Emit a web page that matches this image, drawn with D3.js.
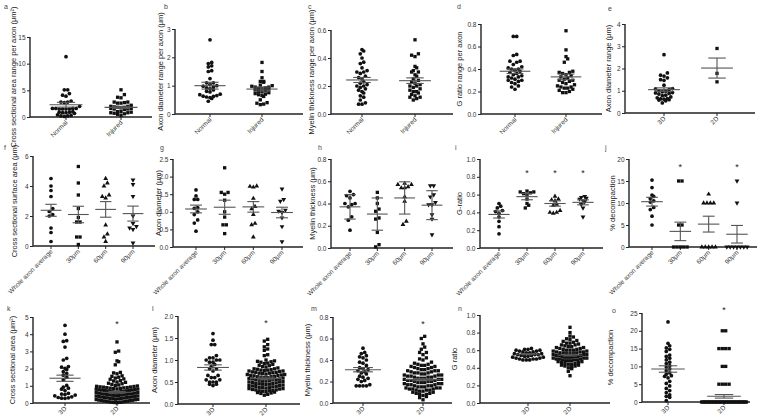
<!DOCTYPE html>
<html>
<head>
<meta charset="utf-8">
<script src="https://cdn.jsdelivr.net/npm/d3@7"></script>
<style>
  body { margin: 0; background: #fff; }
  svg { display: block; }
  text { font-family: "Liberation Sans", Arial, sans-serif; }
</style>
</head>
<body>
<div id="fig"></div>
<script>
// ---- categories ----
const catsNI = ["Normal", "Injured"];
const cats32 = ["3D", "2D"];
const catsDist = ["Whole axon average", "30μm", "60μm", "90μm"];

// ---- a: cross sectional area range ----
const aTicks = [0, 5, 10, 15];
const aNormal = [11.3, 5.1, 5.1, 4.4, 4.1, 3.9, 3.0, 2.8, 2.8, 2.7, 2.0, 1.6, 1.6, 1.6, 1.5, 1.5, 1.5, 1.5, 1.6, 1.0, 0.9, 0.9, 0.8, 0.8, 0.7, 0.4, 0.3, 0.2, 0.2, 0.1];
const aInjured = [5.1, 4.2, 3.7, 3.6, 2.8, 2.8, 2.7, 2.6, 2.6, 2.2, 2.0, 2.0, 1.9, 1.8, 1.8, 1.7, 1.6, 1.6, 1.5, 1.5, 1.4, 1.0, 1.0, 0.9, 0.8, 0.8, 0.7, 0.6, 0.5, 0.3];
const aMean = [2.3, 1.8], aErr = [0.45, 0.2];

// ---- b: axon diameter range ----
const bTicks = [0, 1, 2, 3];
const bNormal = [2.62, 1.82, 1.78, 1.7, 1.66, 1.53, 1.5, 1.25, 1.1, 1.1, 1.05, 1.0, 0.98, 0.95, 0.92, 0.9, 0.85, 0.8, 0.78, 0.7, 0.68, 0.65, 0.63, 0.62, 0.6, 0.58, 0.55, 0.45];
const bInjured = [1.82, 1.5, 1.28, 1.15, 1.12, 1.15, 1.02, 1.0, 0.98, 0.95, 0.95, 0.92, 0.9, 0.9, 0.88, 0.85, 0.82, 0.8, 0.78, 0.75, 0.72, 0.7, 0.68, 0.65, 0.62, 0.5, 0.4, 0.38, 0.35, 0.33];
const bMean = [1.0, 0.88], bErr = [0.12, 0.07];

// ---- c: myelin thickness range ----
const cTicks = ["0.0", "0.2", "0.4", "0.6"];
const cNormal = [0.46, 0.45, 0.43, 0.4, 0.37, 0.36, 0.33, 0.31, 0.3, 0.3, 0.29, 0.27, 0.26, 0.25, 0.23, 0.22, 0.21, 0.2, 0.2, 0.19, 0.18, 0.17, 0.16, 0.15, 0.13, 0.12, 0.1, 0.08, 0.07, 0.07];
const cInjured = [0.53, 0.43, 0.42, 0.41, 0.34, 0.33, 0.31, 0.3, 0.3, 0.28, 0.27, 0.25, 0.24, 0.23, 0.22, 0.21, 0.2, 0.2, 0.19, 0.18, 0.17, 0.16, 0.16, 0.15, 0.14, 0.13, 0.12, 0.12, 0.11, 0.1];
const cMean = [0.243, 0.238], cErr = [0.018, 0.02];

// ---- d: G ratio range ----
const dTicks = ["0.0", "0.2", "0.4", "0.6", "0.8"];
const dNormal = [0.69, 0.69, 0.53, 0.52, 0.47, 0.47, 0.46, 0.44, 0.42, 0.41, 0.4, 0.4, 0.39, 0.38, 0.37, 0.36, 0.35, 0.34, 0.33, 0.33, 0.32, 0.31, 0.3, 0.3, 0.29, 0.28, 0.27, 0.25, 0.24, 0.22];
const dInjured = [0.74, 0.57, 0.51, 0.49, 0.46, 0.38, 0.37, 0.37, 0.36, 0.35, 0.34, 0.33, 0.32, 0.31, 0.3, 0.3, 0.29, 0.28, 0.27, 0.26, 0.25, 0.24, 0.24, 0.23, 0.23, 0.22, 0.21, 0.2, 0.19, 0.19];
const dMean = [0.38, 0.33], dErr = [0.02, 0.025];

// ---- e: axon diameter range 3D vs 2D ----
const eTicks = [0, 1, 2, 3, 4];
const e3D = [2.62, 1.8, 1.7, 1.66, 1.58, 1.5, 1.47, 1.25, 1.1, 1.08, 1.05, 1.0, 0.98, 0.95, 0.92, 0.9, 0.88, 0.85, 0.8, 0.78, 0.72, 0.68, 0.65, 0.63, 0.62, 0.6, 0.58, 0.55, 0.45];
const e2D = [2.9, 1.78, 1.4];
const eMean = [1.05, 2.02], eErr = [0.08, 0.45];

// ---- f: cross sectional surface area by distance ----
const fTicks = [0, 2, 4, 6];
const fWhole = [4.5, 4.0, 3.7, 3.3, 2.5, 2.3, 2.1, 2.0, 1.2, 0.9, 0.3];
const f30 = [5.3, 4.2, 3.4, 2.5, 1.9, 1.6, 1.6, 0.6, 0.6, 0.1];
const f60 = [4.5, 4.2, 4.0, 3.4, 3.3, 3.2, 1.4, 0.8, 0.6, 0.3];
const f90 = [4.4, 4.1, 3.3, 2.0, 1.5, 1.3, 1.2, 1.1, 0.2];
const fMean = [2.38, 2.1, 2.44, 2.16], fErr = [0.4, 0.55, 0.52, 0.5];

// ---- g: axon diameter by distance ----
const gTicks = ["0.0", "0.5", "1.0", "1.5", "2.0", "2.5"];
const gWhole = [1.62, 1.45, 1.35, 1.35, 1.12, 1.1, 1.0, 0.92, 0.77, 0.68, 0.45];
const g30 = [2.25, 1.55, 1.55, 1.5, 1.33, 1.0, 0.85, 0.63, 0.63, 0.38];
const g60 = [1.73, 1.72, 1.7, 1.38, 1.15, 1.08, 0.92, 0.67, 0.63, 0.28];
const g90 = [1.65, 1.35, 1.3, 1.05, 1.02, 0.98, 0.83, 0.58, 0.15];
const gMean = [1.08, 1.13, 1.14, 0.98], gErr = [0.11, 0.2, 0.15, 0.15];

// ---- h: myelin thickness by distance (SD) ----
const hTicks = ["0.0", "0.2", "0.4", "0.6", "0.8"];
const hWhole = [0.51, 0.48, 0.47, 0.45, 0.4, 0.4, 0.39, 0.37, 0.28, 0.25, 0.16];
const h30 = [0.5, 0.45, 0.4, 0.35, 0.33, 0.27, 0.26, 0.14, 0.03, 0.01];
const h60 = [0.58, 0.57, 0.57, 0.55, 0.54, 0.54, 0.46, 0.42, 0.24, 0.21];
const h90 = [0.56, 0.56, 0.48, 0.46, 0.41, 0.39, 0.39, 0.3, 0.26, 0.12];
const hMean = [0.37, 0.305, 0.45, 0.385], hErr = [0.11, 0.145, 0.145, 0.13];

// ---- i: G-ratio by distance ----
const iTicks = ["0.0", "0.2", "0.4", "0.6", "0.8", "1.0"];
const iWhole = [0.5, 0.47, 0.45, 0.42, 0.41, 0.39, 0.35, 0.3, 0.24, 0.16];
const i30 = [0.64, 0.63, 0.63, 0.62, 0.61, 0.6, 0.55, 0.5, 0.48, 0.45];
const i60 = [0.58, 0.55, 0.54, 0.53, 0.49, 0.48, 0.42, 0.4, 0.4, 0.39];
const i90 = [0.58, 0.57, 0.56, 0.55, 0.53, 0.52, 0.49, 0.45, 0.35];
const iMean = [0.377, 0.577, 0.5, 0.513], iErr = [0.04, 0.035, 0.03, 0.028];
const iStars = [null, 0.85, 0.85, 0.85];

// ---- j: % decompaction by distance ----
const jTicks = [0, 5, 10, 15, 20];
const jWhole = [15.2, 13.5, 11.8, 11.5, 11.0, 10.5, 10.2, 9.0, 8.5, 7.0, 5.0];
const j30 = [15, 15, 5, 5, 0, 0, 0, 0, 0];
const j60 = [12, 10, 10, 10, 10, 0, 0, 0, 0, 0];
const j90 = [15, 10, 0, 0, 0, 0, 0, 0, 0];
const jMean = [10.3, 3.55, 5.2, 2.9], jErr = [1.0, 2.1, 1.8, 2.0];
const jStars = [null, 18.5, null, 18.5];

// ---- k: cross sectional area 3D vs 2D ----
const kTicks = [0, 1, 2, 3, 4, 5];
const k3D = [4.52, 4.0, 3.62, 3.58, 3.25, 2.6, 2.5, 2.12, 2.08, 2.02, 1.95, 1.82, 1.72, 1.62, 1.5, 1.35, 1.02, 0.92, 0.86, 0.8, 0.72, 0.56, 0.52, 0.5, 0.46, 0.42, 0.36, 0.32, 0.3, 0.28, 0.27];
const k2D = [3.55, 3.02, 2.95, 2.45, 2.4, 2.22, 1.78, 1.75, 1.7, 1.58, 1.55, 1.5, 1.45, 1.4, 1.38, 1.3, 1.28, 1.22, 1.2, 1.15, 1.12, 1.08, 1.05, 1.02,
  0.99, 0.97, 0.96, 0.94, 0.93, 0.92, 0.9, 0.89, 0.88, 0.86, 0.85, 0.84, 0.82, 0.81, 0.8, 0.79, 0.77, 0.76, 0.75, 0.73, 0.72, 0.71, 0.7, 0.68, 0.67, 0.66,
  0.65, 0.63, 0.62, 0.61, 0.6, 0.58, 0.57, 0.56, 0.55, 0.54, 0.52, 0.51, 0.5, 0.49, 0.47, 0.46, 0.45, 0.44, 0.42, 0.41, 0.4, 0.39, 0.37, 0.36, 0.35,
  0.34, 0.32, 0.31, 0.3, 0.29, 0.27, 0.26, 0.25, 0.24, 0.22, 0.21, 0.2, 0.19, 0.17, 0.16, 0.15, 0.14, 0.12, 0.11, 0.1, 0.09, 0.07, 0.06, 0.05, 0.04, 0.03, 0.02];
const kMean = [1.44, 0.62], kErr = [0.18, 0.05];
const kStars = [null, 4.65];

// ---- l: axon diameter 3D vs 2D ----
const lTicks = ["0.0", "0.5", "1.0", "1.5", "2.0"];
const l3D = [1.6, 1.45, 1.35, 1.35, 1.1, 1.05, 1.05, 1.0, 1.0, 1.0, 0.95, 0.95, 0.9, 0.85, 0.8, 0.8, 0.75, 0.65, 0.65, 0.6, 0.6, 0.55, 0.55, 0.5, 0.5, 0.5, 0.45, 0.45, 0.42];
const l2D = [1.47, 1.43, 1.35, 1.3, 1.25, 1.22, 1.12, 1.1, 1.0, 0.98, 0.97, 0.96, 0.95, 0.93, 0.92, 0.9, 0.88, 0.87, 0.85, 0.84, 0.82, 0.8, 0.8, 0.79,
  0.78, 0.77, 0.77, 0.76, 0.75, 0.75, 0.74, 0.73, 0.72, 0.72, 0.71, 0.7, 0.7, 0.69, 0.68, 0.67, 0.67, 0.66, 0.65, 0.65, 0.64, 0.63, 0.62, 0.62, 0.61,
  0.6, 0.6, 0.59, 0.58, 0.57, 0.57, 0.56, 0.55, 0.55, 0.54, 0.53, 0.52, 0.52, 0.51, 0.5, 0.5, 0.49, 0.48, 0.47, 0.47, 0.46, 0.45, 0.45, 0.44, 0.43,
  0.42, 0.42, 0.41, 0.4, 0.4, 0.39, 0.38, 0.37, 0.37, 0.36, 0.35, 0.35, 0.34, 0.33, 0.32, 0.32, 0.31, 0.3, 0.3, 0.29, 0.28, 0.27, 0.26, 0.25, 0.24, 0.22, 0.2];
const lMean = [0.83, 0.58], lErr = [0.06, 0.03];
const lStars = [null, 1.87];

// ---- m: myelin thickness 3D vs 2D ----
const mTicks = ["0.0", "0.2", "0.4", "0.6", "0.8"];
const m3D = [0.51, 0.47, 0.46, 0.44, 0.43, 0.42, 0.4, 0.38, 0.37, 0.35, 0.33, 0.32, 0.31, 0.3, 0.29, 0.28, 0.27, 0.25, 0.24, 0.23, 0.22, 0.21, 0.2, 0.17, 0.16, 0.16, 0.16, 0.16];
const m2D = [0.62, 0.6, 0.55, 0.52, 0.5, 0.47, 0.47, 0.45, 0.42, 0.41, 0.4, 0.38, 0.37, 0.36, 0.36, 0.35, 0.35, 0.34, 0.34, 0.33, 0.33, 0.32, 0.32,
  0.31, 0.31, 0.3, 0.3, 0.3, 0.29, 0.29, 0.28, 0.28, 0.28, 0.27, 0.27, 0.26, 0.26, 0.26, 0.25, 0.25, 0.25, 0.24, 0.24, 0.24, 0.23, 0.23, 0.23, 0.22,
  0.22, 0.22, 0.21, 0.21, 0.21, 0.2, 0.2, 0.2, 0.19, 0.19, 0.19, 0.18, 0.18, 0.18, 0.17, 0.17, 0.17, 0.16, 0.16, 0.16, 0.15, 0.15, 0.15, 0.14, 0.14,
  0.14, 0.13, 0.13, 0.13, 0.12, 0.12, 0.12, 0.11, 0.11, 0.1, 0.1, 0.09, 0.09, 0.08, 0.08, 0.07, 0.06, 0.05, 0.03];
const mMean = [0.31, 0.217], mErr = [0.02, 0.01];
const mStars = [null, 0.74];

// ---- n: G ratio 3D vs 2D ----
const nTicks = ["0.0", "0.2", "0.4", "0.6", "0.8", "1.0"];
const n3D = [0.62, 0.61, 0.61, 0.6, 0.6, 0.59, 0.59, 0.58, 0.58, 0.57, 0.57, 0.56, 0.56, 0.55, 0.55, 0.55, 0.54, 0.54, 0.53, 0.53, 0.52, 0.52, 0.51, 0.51, 0.5, 0.5, 0.5, 0.49, 0.49, 0.49];
const n2D = [0.86, 0.8, 0.76, 0.75, 0.73, 0.72, 0.71, 0.7, 0.69, 0.68, 0.68, 0.67, 0.66, 0.66, 0.65, 0.64, 0.64, 0.63, 0.63, 0.62, 0.62, 0.61, 0.61,
  0.6, 0.6, 0.6, 0.59, 0.59, 0.58, 0.58, 0.58, 0.57, 0.57, 0.57, 0.56, 0.56, 0.56, 0.55, 0.55, 0.55, 0.54, 0.54, 0.54, 0.53, 0.53, 0.53, 0.52, 0.52,
  0.52, 0.51, 0.51, 0.51, 0.5, 0.5, 0.5, 0.49, 0.49, 0.49, 0.48, 0.48, 0.48, 0.47, 0.47, 0.46, 0.46, 0.45, 0.45, 0.44, 0.44, 0.43, 0.43, 0.42, 0.42,
  0.41, 0.4, 0.39, 0.36, 0.31];
const nMean = [0.555, 0.544], nErr = [0.006, 0.01];

// ---- o: % decompaction 3D vs 2D ----
const oTicks = [0, 5, 10, 15, 20, 25];
const o3D = [22.5, 16.5, 15.8, 15.2, 14.8, 14.2, 13.2, 12.8, 12.3, 11.8, 11.2, 10.8, 10.2, 9.8, 9.3, 8.8, 8.2, 7.8, 7.4, 7.2, 6.8, 5.8, 5.2, 4.5, 3.8, 3.2, 2.6, 2.0, 1.6, 1.3, 0.4];
const o2D = [20, 20, 15, 15, 15, 15, 10, 10, 5, 5, 5, 5,
  0, 0, 0, 0, 0, 0, 0, 0, 0, 0, 0, 0, 0, 0, 0, 0, 0, 0, 0, 0, 0, 0, 0, 0, 0, 0, 0, 0, 0, 0, 0, 0, 0, 0];
const oMean = [9.27, 1.6], oErr = [0.9, 0.5];
const oStars = [null, 26.2];

const shapes2 = ["circle", "square"];
const shapes4 = ["circle", "square", "triangle", "triangleDown"];

// layout: y-axis x, x-axis end, top tick y, zero y, first/last category centre, title offset, letter pos
const panels = [
  {L: "a", x0: 30, x1: 152, yT: 37, yB: 117, c0: 66, c1: 121, to: 14, lp: [4, 9], ticks: aTicks, cats: catsNI, groups: [aNormal, aInjured], mean: aMean, err: aErr, title: "Cross sectional area range per axon (μm²)"},
  {L: "b", x0: 175, x1: 303, yT: 29, yB: 114, c0: 210, c1: 262, to: 12, lp: [164, 9], ticks: bTicks, cats: catsNI, groups: [bNormal, bInjured], mean: bMean, err: bErr, title: "Axon diameter range per axon (μm)"},
  {L: "c", x0: 331, x1: 453, yT: 30, yB: 114, c0: 362, c1: 415, to: 17, lp: [308, 9], ticks: cTicks, cats: catsNI, groups: [cNormal, cInjured], mean: cMean, err: cErr, title: "Myelin thickness range per axon (μm)"},
  {L: "d", x0: 481, x1: 602, yT: 24, yB: 114, c0: 515, c1: 566, to: 19, lp: [457, 9], ticks: dTicks, cats: catsNI, groups: [dNormal, dInjured], mean: dMean, err: dErr, title: "G ratio range per axon"},
  {L: "e", x0: 625, x1: 755, yT: 24, yB: 113, c0: 664, c1: 717, to: 14, lp: [608, 11], ticks: eTicks, cats: cats32, groups: [e3D, e2D], mean: eMean, err: eErr, title: "Axon diameter range (μm)"},
  {L: "f", x0: 33, x1: 155, yT: 156, yB: 246, c0: 51, c1: 133, to: 16, lp: [4, 150], ticks: fTicks, cats: catsDist, groups: [fWhole, f30, f60, f90], mean: fMean, err: fErr, title: "Cross sectional surface area (μm)"},
  {L: "g", x0: 173, x1: 303, yT: 159, yB: 247, c0: 196, c1: 282, to: 12, lp: [160, 150], ticks: gTicks, cats: catsDist, groups: [gWhole, g30, g60, g90], mean: gMean, err: gErr, title: "Axon diameter (μm)"},
  {L: "h", x0: 331, x1: 453, yT: 159, yB: 248, c0: 350, c1: 432, to: 16, lp: [318, 150], ticks: hTicks, cats: catsDist, groups: [hWhole, h30, h60, h90], mean: hMean, err: hErr, title: "Myelin thickness (μm)"},
  {L: "i", x0: 480, x1: 603, yT: 159, yB: 248, c0: 499, c1: 583, to: 18, lp: [455, 150], ticks: iTicks, cats: catsDist, groups: [iWhole, i30, i60, i90], mean: iMean, err: iErr, stars: iStars, title: "G-ratio"},
  {L: "j", x0: 629, x1: 757, yT: 159, yB: 247, c0: 652, c1: 737, to: 14, lp: [605, 150], ticks: jTicks, cats: catsDist, groups: [jWhole, j30, j60, j90], mean: jMean, err: jErr, stars: jStars, title: "% decompaction"},
  {L: "k", x0: 33, x1: 150, yT: 317, yB: 403, c0: 65, c1: 117, to: 18, lp: [7, 311], ticks: kTicks, cats: cats32, groups: [k3D, k2D], mean: kMean, err: kErr, stars: kStars, title: "Cross sectional area (μm²)"},
  {L: "l", x0: 178, x1: 300, yT: 316, yB: 404, c0: 213, c1: 266, to: 21, lp: [152, 311], ticks: lTicks, cats: cats32, groups: [l3D, l2D], mean: lMean, err: lErr, stars: lStars, title: "Axon diameter (μm)"},
  {L: "m", x0: 333, x1: 452, yT: 317, yB: 403, c0: 363, c1: 423, to: 23, lp: [311, 311], ticks: mTicks, cats: cats32, groups: [m3D, m2D], mean: mMean, err: mErr, stars: mStars, title: "Myelin thickness (μm)"},
  {L: "n", x0: 480, x1: 610, yT: 315, yB: 403, c0: 528, c1: 570, to: 23, lp: [458, 311], ticks: nTicks, cats: cats32, groups: [n3D, n2D], mean: nMean, err: nErr, title: "G ratio"},
  {L: "o", x0: 642, x1: 750, yT: 313, yB: 402, c0: 668, c1: 724, to: 29, lp: [612, 313], ticks: oTicks, cats: cats32, groups: [o3D, o2D], mean: oMean, err: oErr, stars: oStars, title: "% decompaction"}
];

const svg = d3.select("#fig").append("svg").attr("width", 760).attr("height", 419);

const symType = {circle: d3.symbolCircle, square: d3.symbolSquare, triangle: d3.symbolTriangle, triangleDown: d3.symbolTriangle};

// Prism-like scatter: bin points by pixel height, spread each bin sideways
function swarm(vals, y, cx, size, maxHalf) {
  const pts = vals.map(v => ({v: v, py: y(v)})).sort((a, b) => b.py - a.py);
  const out = [];
  let i = 0;
  while (i < pts.length) {
    let j = i;
    const start = pts[i].py;
    while (j < pts.length && start - pts[j].py < size) j++;
    const bin = pts.slice(i, j);
    const n = bin.length;
    let step = size;
    if (n > 1 && (n - 1) * step / 2 > maxHalf) step = 2 * maxHalf / (n - 1);
    const offs = d3.range(n).map(k => (k - (n - 1) / 2) * step)
      .sort((p, q) => Math.abs(p) - Math.abs(q) || p - q);
    bin.forEach((p, k) => out.push({x: cx + offs[k], y: p.py}));
    i = j;
  }
  return out;
}

panels.forEach(p => {
  const g = svg.append("g");
  const tickVals = p.ticks.map(Number);
  const y = d3.scaleLinear().domain([0, d3.max(tickVals)]).range([p.yB, p.yT]);
  const x = d3.scalePoint().domain(p.cats).range([p.c0, p.c1]);
  const spacing = p.c1 - p.c0;
  const four = p.cats.length === 4;
  const meanHalf = four ? spacing / 3 * 0.38 : spacing * 0.3;
  const capHalf = meanHalf * 0.55;
  const maxHalf = four ? spacing / 3 * 0.42 : spacing * 0.4;

  // y axis
  const yAx = g.append("g").attr("transform", `translate(${p.x0},0)`)
    .call(d3.axisLeft(y).tickValues(tickVals).tickSize(3).tickPadding(1.5)
      .tickFormat((d, i) => String(p.ticks[i])));
  yAx.select(".domain").attr("stroke", "#222").attr("stroke-width", 1.4)
    .attr("d", `M0,${p.yT}V${p.yB}`);
  yAx.selectAll(".tick line").attr("stroke", "#222").attr("stroke-width", 1);
  yAx.selectAll(".tick text").attr("font-size", 6.5).attr("fill", "#333").attr("font-family", null);

  // x axis
  g.append("line").attr("x1", p.x0).attr("x2", p.x1).attr("y1", p.yB).attr("y2", p.yB)
    .attr("stroke", "#222").attr("stroke-width", 1.4);
  p.cats.forEach(c => {
    g.append("line").attr("x1", x(c)).attr("x2", x(c)).attr("y1", p.yB).attr("y2", p.yB + 3)
      .attr("stroke", "#222").attr("stroke-width", 1);
    g.append("text").attr("transform", `translate(${x(c) + 2},${p.yB + 6}) rotate(-45)`)
      .attr("text-anchor", "end").attr("font-size", 6.5).attr("fill", "#333").text(c);
  });

  // y title
  g.append("text").attr("transform", `translate(${p.x0 - p.to},${(p.yT + p.yB) / 2}) rotate(-90)`)
    .attr("text-anchor", "middle").attr("font-size", 7.5).attr("fill", "#222").text(p.title);

  // panel letter
  g.append("text").attr("x", p.lp[0]).attr("y", p.lp[1]).attr("font-size", 7).attr("fill", "#444").text(p.L);

  // points
  p.groups.forEach((vals, gi) => {
    const shape = (four ? shapes4 : shapes2)[gi];
    const sym = d3.symbol().type(symType[shape]).size(shape === "circle" ? 11 : (shape === "square" ? 11 : 10));
    const pts = swarm(vals, y, x(p.cats[gi]), 3.4, maxHalf);
    g.append("g").selectAll("path").data(pts).join("path")
      .attr("d", sym)
      .attr("transform", d => `translate(${d.x},${d.y})` + (shape === "triangleDown" ? " rotate(180)" : ""))
      .attr("fill", "#111");
  });

  // mean and error bars
  p.cats.forEach((c, gi) => {
    const cx = x(c), m = p.mean[gi], e = p.err[gi];
    const ln = g.append("g").attr("stroke", "#555").attr("stroke-width", 1.1).attr("fill", "none");
    ln.append("line").attr("x1", cx - meanHalf).attr("x2", cx + meanHalf).attr("y1", y(m)).attr("y2", y(m));
    ln.append("line").attr("x1", cx).attr("x2", cx).attr("y1", y(m - e)).attr("y2", y(m + e));
    ln.append("line").attr("x1", cx - capHalf).attr("x2", cx + capHalf).attr("y1", y(m + e)).attr("y2", y(m + e));
    ln.append("line").attr("x1", cx - capHalf).attr("x2", cx + capHalf).attr("y1", y(m - e)).attr("y2", y(m - e));
  });

  // significance stars
  if (p.stars) {
    p.stars.forEach((s, gi) => {
      if (s == null) return;
      g.append("text").attr("x", x(p.cats[gi])).attr("y", y(s) + 4).attr("text-anchor", "middle")
        .attr("font-size", 9).attr("fill", "#222").text("*");
    });
  }
});
</script>
</body>
</html>
